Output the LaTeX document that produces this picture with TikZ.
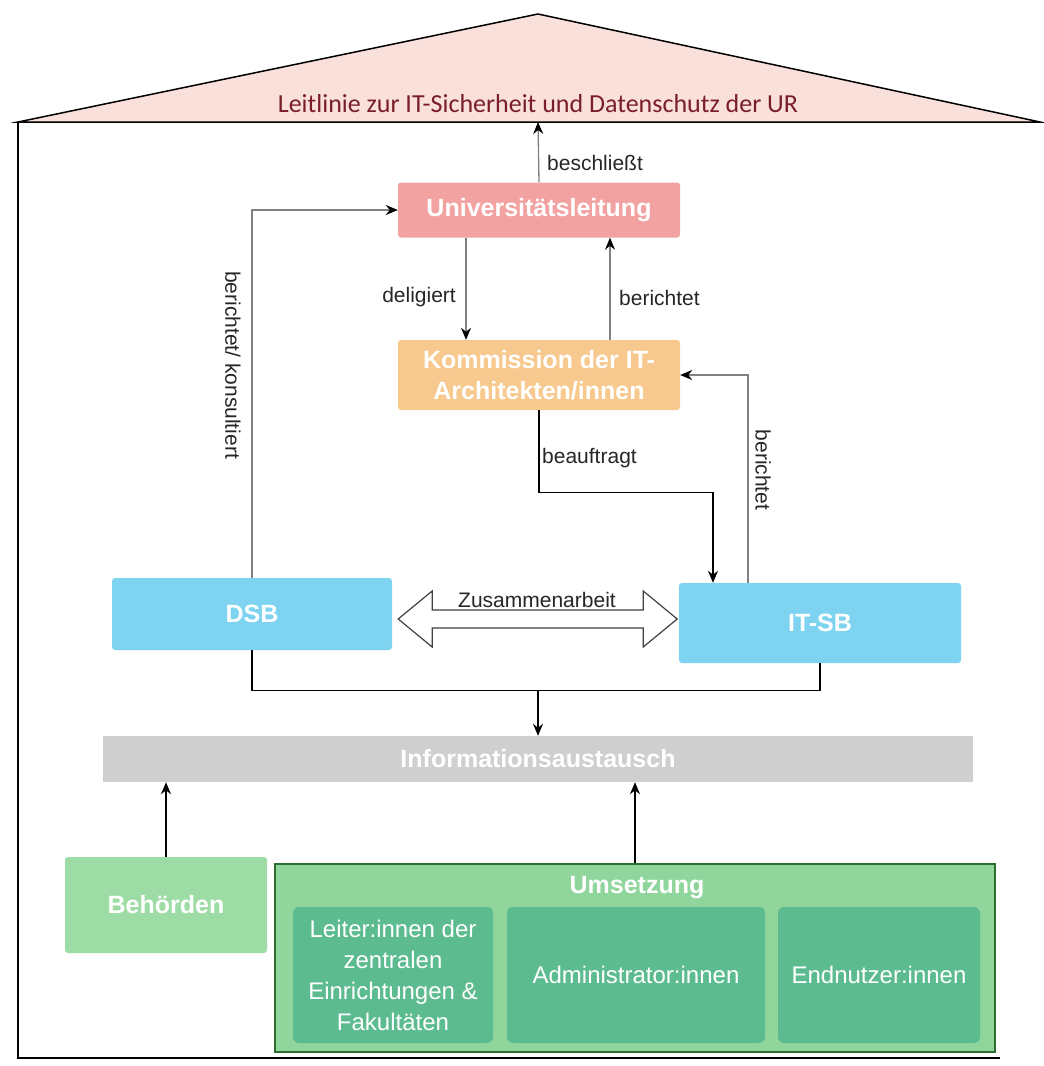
\documentclass[tikz,border=0pt]{standalone}
\usepackage{fontspec}
\setmainfont{Liberation Sans}
\newfontfamily\calibri{Carlito}
\usepackage{tikz}
\usepackage{color}
\usetikzlibrary{arrows.meta, calc}
\definecolor{myroof}{RGB}{249,224,219}
\definecolor{mytitle}{RGB}{122,30,40}
\definecolor{mypink}{RGB}{243,162,162}
\definecolor{myorange}{RGB}{248,201,142}
\definecolor{myblue}{RGB}{125,211,240}
\definecolor{mygrey}{RGB}{207,207,207}
\definecolor{mygreen}{RGB}{158,220,166}
\definecolor{mylightgreen}{RGB}{143,213,156}
\definecolor{myteal}{RGB}{93,187,144}
\definecolor{mydarkgreen}{RGB}{46,110,50}
\tikzset{
  box/.style={draw=none, rounded corners=3, inner sep=2, text=white,
    font=\fontsize{25}{31}\selectfont\bfseries, align=center},
  innerbox/.style={draw=none, rounded corners=6, inner sep=2, text=white, fill=myteal,
    font=\fontsize{24}{31}\selectfont, align=center, minimum height=136},
  lbl/.style={inner sep=0, text=black!85, font=\fontsize{21}{25}\selectfont},
  conn/.style={line width=1.3, draw=black, -{Stealth[length=12,width=10,black]}},
  greyconn/.style={conn, draw=black!50}
}

\begin{document}
\begin{tikzpicture}[x=1pt, y=-1pt]
\useasboundingbox (0,0) rectangle (1044,1066);

% roof and house
\draw[line width=1.5, fill=myroof] (18,122) -- (538,14) -- (1040,122) -- cycle;
\draw[line width=1.5] (18,122) -- (18,1058) -- (1000,1058);
\node [inner sep=0, text=mytitle, font=\calibri\fontsize{26}{30}\selectfont] (title) at (538,104)
  {Leitlinie zur IT-Sicherheit und Datenschutz der UR};
\coordinate (roofmid) at (538,122);

\node [box, fill=mypink, minimum width=282, minimum height=55] (ul) at (539,210) {Universitätsleitung};
\node [box, fill=myorange, minimum width=282, minimum height=70] (kom) at (539,375)
  {Kommission der IT-\\Architekten/innen};
\node [box, fill=myblue, minimum width=280, minimum height=72] (dsb) at (252,614) {DSB};
\node [box, fill=myblue, minimum width=282, minimum height=80] (itsb) at (820,623) {IT-SB};
\node [box, fill=mygrey, rounded corners=0, minimum width=870, minimum height=46] (info) at (538,759)
  {Informationsaustausch};
\node [box, fill=mygreen, minimum width=202, minimum height=96] (beh) at (166,905) {Behörden};
\node [box, fill=mylightgreen, draw=mydarkgreen, line width=1.5, rounded corners=0,
  minimum width=720, minimum height=188] (ums) at (635,958) {};
\node [box, inner sep=0] (umstitle) at (637,888) {Umsetzung};
\node [innerbox, minimum width=200] (lei) at (393,975)
  {Leiter:innen der\\zentralen\\Einrichtungen \&\\Fakultäten};
\node [innerbox, minimum width=258] (adm) at (636,975) {Administrator:innen};
\node [innerbox, minimum width=202] (end) at (879,975) {Endnutzer:innen};

% upper arrows
\draw[greyconn] (ul.north) -- (roofmid);
\node [lbl, anchor=west] (lbeschl) at (547,163) {beschließt};

\draw[greyconn] (dsb.north) |- (ul.west);
\node [lbl, rotate=-90] (lkons) at (233,365) {berichtet/ konsultiert};

\draw[greyconn] ([xshift=-73]ul.south) -- ([xshift=-73]kom.north);
\node [lbl, anchor=east] (ldelig) at (456,297) {deligiert};

\draw[greyconn] ([xshift=71]kom.north) -- ([xshift=71]ul.south);
\node [lbl, anchor=west] (lber) at (619,298) {berichtet};

\draw[conn] (kom.south) -- ++(0,82) -| ([xshift=-107]itsb.north);
\node [lbl, anchor=west] (lbeauf) at (542,458) {beauftragt};

\draw[greyconn] ([xshift=-72]itsb.north) |- (kom.east);
\node [lbl, rotate=-90] (lber2) at (763,470) {berichtet};

% Zusammenarbeit
\draw[line width=1.2, draw=black!75, fill=white] ([xshift=6,yshift=-5]dsb.east)
  -- ++(34,-28) -- ++(0,19) -- ++(211,0) -- ++(0,-19) -- ++(34,28)
  -- ++(-34,28) -- ++(0,-19) -- ++(-211,0) -- ++(0,19) -- cycle;
\node [lbl, fill=white, inner sep=1] (lzus) at (537,600) {Zusammenarbeit};

% lower arrows
\coordinate (merge) at (538,690);
\draw[line width=1.3] (dsb.south) -- ++(0,40) -| (itsb.south);
\draw[conn] (merge) -- (info.north);
\draw[conn] (beh.north) -- (beh.north |- info.south);
\draw[conn] (ums.north) -- (ums.north |- info.south);

\end{tikzpicture}
\end{document}
